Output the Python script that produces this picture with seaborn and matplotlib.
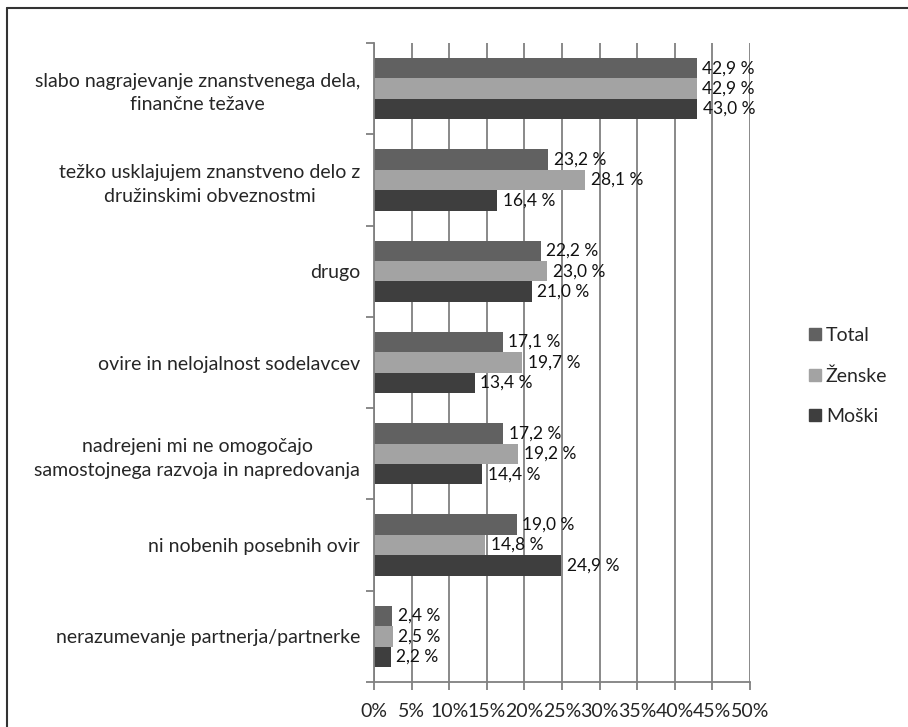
import pandas as pd
import seaborn as sns
import matplotlib.pyplot as plt
import numpy as np
from matplotlib.lines import Line2D

categories = [
    'slabo nagrajevanje znanstvenega dela,\nfinančne težave',
    'težko usklajujem znanstveno delo z\ndružinskimi obveznostmi',
    'drugo',
    'ovire in nelojalnost sodelavcev',
    'nadrejeni mi ne omogočajo\nsamostojnega razvoja in napredovanja',
    'ni nobenih posebnih ovir',
    'nerazumevanje partnerja/partnerke',
]
series = ['Total', 'Ženske', 'Moški']
total = [42.9, 23.2, 22.2, 17.1, 17.2, 19.0, 2.4]
zenske = [42.9, 28.1, 23.0, 19.7, 19.2, 14.8, 2.5]
moski = [43.0, 16.4, 21.0, 13.4, 14.4, 24.9, 2.2]
colors = ['#616161', '#a3a3a3', '#3e3e3e']
x_ticks = [0, 5, 10, 15, 20, 25, 30, 35, 40, 45, 50]

df = pd.DataFrame({
    'Kategorija': categories * 3,
    'Skupina': [s for s in series for _ in categories],
    'Delez': total + zenske + moski,
})

sns.set_style('white')
plt.rcParams['font.family'] = ['Lato', 'DejaVu Sans']

fig = plt.figure(figsize=(9.08, 7.27), dpi=100)
ax = fig.add_axes([374 / 908, 1 - 682 / 727, 376 / 908, 639 / 727])

sns.barplot(data=df, y='Kategorija', x='Delez', hue='Skupina', order=categories,
            hue_order=series, palette=colors, width=0.67, orient='h', ax=ax,
            saturation=1, legend=False, linewidth=0)

for cont in ax.containers:
    vals = cont.datavalues
    ax.bar_label(cont, labels=[f'{v:.1f} %'.replace('.', ',') for v in vals],
                 padding=4, fontsize=12.5, color='#111111')

ax.set_xlim(0, 50)
ax.set_ylim(6.5, -0.5)
ax.set_xticks(x_ticks)
ax.set_xticklabels([f'{t}%' for t in x_ticks], fontsize=14)
ax.set_yticks(range(len(categories)))
ax.set_yticklabels(categories, fontsize=14, multialignment='center', linespacing=1.45)
ax.set_yticks(np.arange(-0.5, 7, 1), minor=True)
ax.tick_params(axis='y', which='major', length=0, pad=10)
ax.tick_params(axis='y', which='minor', length=6, width=1.3, color='#808080', direction='out', left=True)
ax.tick_params(axis='x', length=6, width=1.3, color='#808080', direction='out', bottom=True, pad=9)
ax.set_xlabel('')
ax.set_ylabel('')
ax.grid(axis='x', color='#808080', linewidth=1.3)
ax.set_axisbelow(True)
for s in ['top', 'right']:
    ax.spines[s].set_visible(False)
for s in ['left', 'bottom']:
    ax.spines[s].set_color('#808080')
    ax.spines[s].set_linewidth(1.3)

handles = [Line2D([], [], marker='s', linestyle='', markersize=8, color=c) for c in colors]
fig.legend(handles, series, loc='center left', bbox_to_anchor=(788 / 908, 1 - 376 / 727),
           frameon=False, fontsize=14, labelspacing=1.2, handletextpad=0.05, handlelength=1.0)

# frame around the figure
fig.add_artist(Line2D([7 / 908, 7 / 908], [0, 1 - 7.5 / 727], transform=fig.transFigure,
                      color='#333333', linewidth=1.5))
fig.add_artist(Line2D([7 / 908, 1], [1 - 7.5 / 727, 1 - 7.5 / 727], transform=fig.transFigure,
                      color='#333333', linewidth=1.5))

fig.savefig('out.png', dpi=100)
